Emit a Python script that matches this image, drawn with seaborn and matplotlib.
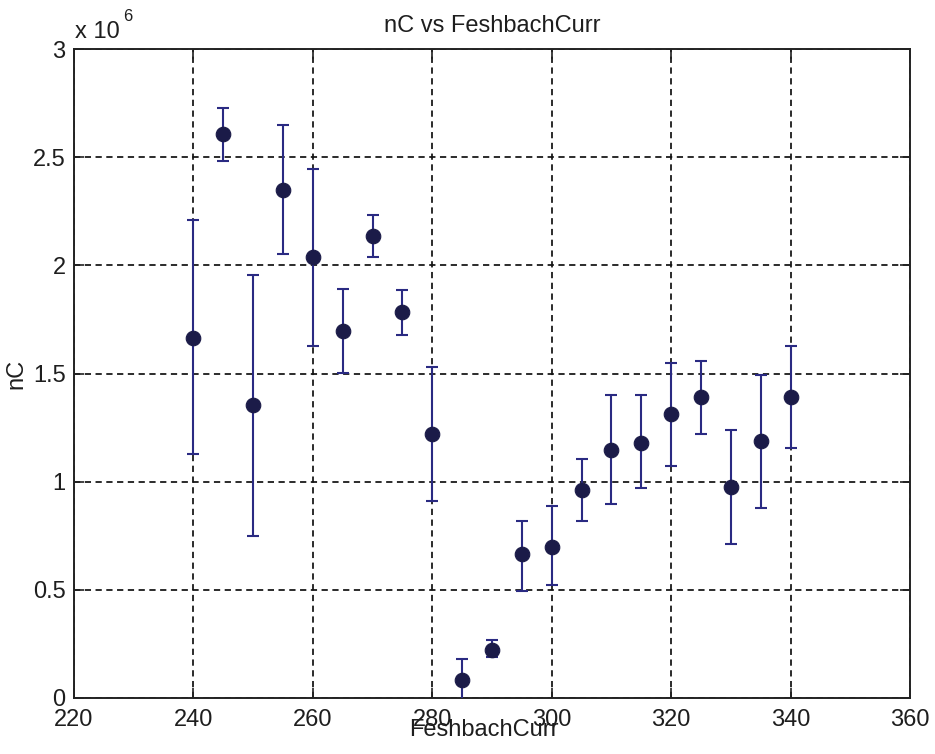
import numpy as np
import pandas as pd
import matplotlib
matplotlib.use("Agg")
import matplotlib.pyplot as plt
import seaborn as sns
from matplotlib.ticker import FuncFormatter

# ---- data ----
feshbach_curr = [240, 245, 250, 255, 260, 265, 270, 275, 280, 285, 290,
                 295, 300, 305, 310, 315, 320, 325, 330, 335, 340]
nC_million = [1.665, 2.607, 1.356, 2.349, 2.040, 1.696, 2.136, 1.784, 1.219,
              0.082, 0.221, 0.665, 0.696, 0.960, 1.145, 1.178, 1.312, 1.390,
              0.975, 1.188, 1.390]
err_upper_million = [0.545, 0.121, 0.599, 0.302, 0.405, 0.194, 0.097, 0.104,
                     0.310, 0.096, 0.047, 0.155, 0.191, 0.143, 0.257, 0.223,
                     0.237, 0.167, 0.265, 0.307, 0.236]
err_lower_million = [0.538, 0.123, 0.609, 0.297, 0.414, 0.195, 0.096, 0.108,
                     0.309, 0.096, 0.031, 0.170, 0.173, 0.140, 0.247, 0.206,
                     0.240, 0.168, 0.261, 0.309, 0.233]
x_ticks = [220, 240, 260, 280, 300, 320, 340, 360]
y_ticks_million = [0, 0.5, 1, 1.5, 2, 2.5, 3]

title_text = "nC vs FeshbachCurr"
x_label = "FeshbachCurr"
y_label = "nC"

scale = 1e6
df = pd.DataFrame({
    "FeshbachCurr": feshbach_curr,
    "nC": np.array(nC_million) * scale,
    "err_lo": np.array(err_lower_million) * scale,
    "err_hi": np.array(err_upper_million) * scale,
})

sns.set_theme(style="white")
plt.rcParams["font.family"] = ["Liberation Sans", "DejaVu Sans"]
text_color = "#1e1e1e"

W, H = 935, 754
fig = plt.figure(figsize=(W / 100, H / 100), dpi=100)
L, R, T, B = 74, 910, 49, 698
ax = fig.add_axes([L / W, 1 - B / H, (R - L) / W, (B - T) / H])
ax.set_facecolor("white")

# grid
ax.grid(True, color="#111111", linestyle=(0, (3.6, 2.6)), linewidth=1.25)
ax.set_axisbelow(True)

# error bars
ax.errorbar(df["FeshbachCurr"], df["nC"],
            yerr=[df["err_lo"], df["err_hi"]],
            fmt="none", ecolor="#2a2a82", elinewidth=1.5,
            capsize=4.2, capthick=1.5, zorder=3)
# markers
sns.scatterplot(data=df, x="FeshbachCurr", y="nC", ax=ax, s=110,
                color="#1b1b48", edgecolor="#1b1b48", linewidth=0.8,
                zorder=4, legend=False)

ax.set_xlim(220, 360)
ax.set_ylim(0, 3 * scale)
ax.set_xticks(x_ticks)
ax.set_yticks(np.array(y_ticks_million) * scale)
ax.yaxis.set_major_formatter(FuncFormatter(lambda v, p: f"{v / scale:g}"))

for s in ax.spines.values():
    s.set_visible(True)
    s.set_color("#222222")
    s.set_linewidth(1.4)

ax.tick_params(axis="both", which="major", direction="in", length=7,
               width=1.2, color="#222222", labelsize=17,
               labelcolor=text_color, top=True, right=True,
               bottom=True, left=True)
ax.tick_params(axis="x", pad=8)
ax.tick_params(axis="y", pad=6)

ax.set_title(title_text, fontsize=17, color=text_color, pad=12)
ax.set_xlabel(x_label, fontsize=17, color=text_color)
ax.xaxis.set_label_coords(0.49, -0.033)
ax.xaxis.label.set_va("top")
ax.set_ylabel(y_label, fontsize=17, color=text_color)
ax.yaxis.set_label_coords(-0.056, 0.5)

# MATLAB-style exponent
fig.text(75 / W, 1 - 38 / H, "x 10", fontsize=17, color=text_color,
         ha="left", va="baseline")
fig.text(123 / W, 1 - 21 / H, "6", fontsize=12, color=text_color,
         ha="left", va="baseline")

fig.savefig("out.png", dpi=100, facecolor="white")
